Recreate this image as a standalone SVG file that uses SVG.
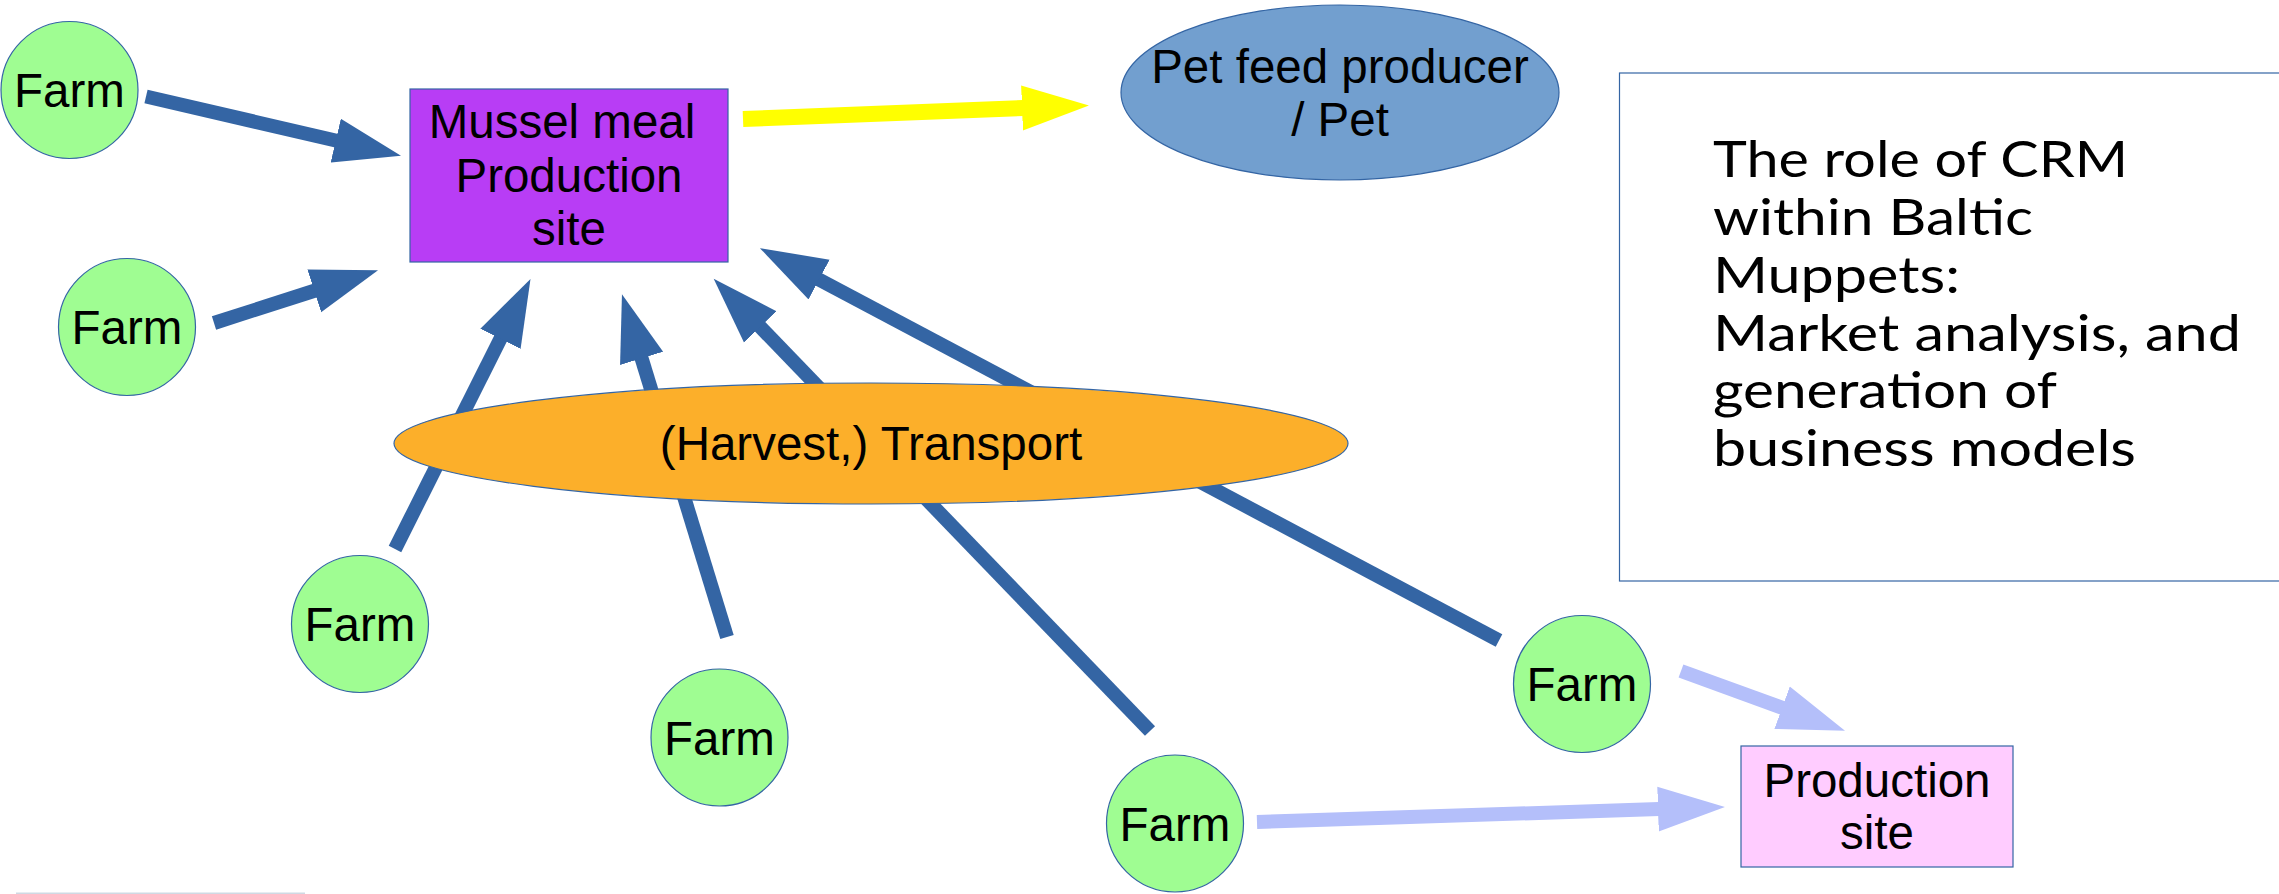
<svg xmlns="http://www.w3.org/2000/svg" width="2279" height="894" viewBox="0 0 2279 894">
<style>
.farm circle{fill:#9ffd92;stroke:#3465a4;stroke-width:1.2}
.lbl{font-family:"Liberation Sans",Arial,sans-serif;font-size:47.5px;fill:#000;text-anchor:middle}
.title{font-family:Lato,"Open Sans",sans-serif;font-size:50px;fill:#000}
.cb{stroke:#3465a4;stroke-width:14;fill:none}
.cy{stroke:#ffff00;stroke-width:16;fill:none}
.cl{stroke:#b4bffa;stroke-width:14;fill:none}
</style>
<defs>
<marker id="hb" markerUnits="userSpaceOnUse" markerWidth="68" markerHeight="46" viewBox="0 0 68 46" refX="1" refY="23" orient="auto"><path d="M0,0.5 L67,23 L0,45.5 Z" fill="#3465a4"/></marker>
<marker id="hy" markerUnits="userSpaceOnUse" markerWidth="68" markerHeight="46" viewBox="0 0 68 46" refX="1" refY="23" orient="auto"><path d="M0,0.5 L67,23 L0,45.5 Z" fill="#ffff00"/></marker>
<marker id="hl" markerUnits="userSpaceOnUse" markerWidth="68" markerHeight="46" viewBox="0 0 68 46" refX="1" refY="23" orient="auto"><path d="M0,0.5 L67,23 L0,45.5 Z" fill="#b4bffa"/></marker>
</defs>
<rect x="0" y="0" width="2279" height="894" fill="#fff"/>
<g id="connectors">
<line class="cb" x1="146" y1="96.5" x2="336.7" y2="140.8" marker-end="url(#hb)"/>
<line class="cb" x1="214" y1="323" x2="315.2" y2="290.5" marker-end="url(#hb)"/>
<line class="cb" x1="395" y1="549" x2="500.9" y2="337.9" marker-end="url(#hb)"/>
<line class="cb" x1="727" y1="637" x2="641.3" y2="357.4" marker-end="url(#hb)"/>
<line class="cb" x1="1150" y1="731" x2="759.5" y2="326.2" marker-end="url(#hb)"/>
<line class="cb" x1="1499" y1="640.5" x2="818.2" y2="279.1" marker-end="url(#hb)"/>
<line class="cy" x1="743" y1="119" x2="1023" y2="108" marker-end="url(#hy)"/>
<line class="cl" x1="1681" y1="671" x2="1783" y2="708.1" marker-end="url(#hl)"/>
<line class="cl" x1="1257" y1="822" x2="1659" y2="809.1" marker-end="url(#hl)"/>
</g>
<g id="mussel-meal">
<rect x="410" y="89" width="318" height="173" fill="#b83df5" stroke="#3465a4" stroke-width="1.2"/>
<text class="lbl" x="562" y="138">Mussel meal</text>
<text class="lbl" x="569" y="192">Production</text>
<text class="lbl" x="569" y="245">site</text>
</g>
<g id="pet-feed">
<ellipse cx="1340" cy="92.5" rx="219" ry="87.5" fill="#729fcf" stroke="#3465a4" stroke-width="1.2"/>
<text class="lbl" x="1340" y="83">Pet feed producer</text>
<text class="lbl" x="1340" y="136">/ Pet</text>
</g>
<g id="transport">
<ellipse cx="871" cy="443.5" rx="477" ry="60.5" fill="#fcaf2a" stroke="#3465a4" stroke-width="1.2"/>
<text class="lbl" x="871" y="460">(Harvest,) Transport</text>
</g>
<g id="production-site">
<rect x="1741" y="746" width="272" height="121" fill="#ffccff" stroke="#3465a4" stroke-width="1.2"/>
<text class="lbl" x="1877" y="797">Production</text>
<text class="lbl" x="1877" y="849">site</text>
</g>
<g id="farm1" class="farm"><circle cx="69.5" cy="90" r="68.5"/><text class="lbl" x="69.5" y="107">Farm</text></g>
<g id="farm2" class="farm"><circle cx="127" cy="327" r="68.5"/><text class="lbl" x="127" y="344">Farm</text></g>
<g id="farm3" class="farm"><circle cx="360" cy="624" r="68.5"/><text class="lbl" x="360" y="641">Farm</text></g>
<g id="farm4" class="farm"><circle cx="719.5" cy="737.5" r="68.5"/><text class="lbl" x="719.5" y="754.5">Farm</text></g>
<g id="farm5" class="farm"><circle cx="1175" cy="823.5" r="68.5"/><text class="lbl" x="1175" y="840.5">Farm</text></g>
<g id="farm6" class="farm"><circle cx="1582" cy="684" r="68.5"/><text class="lbl" x="1582" y="701">Farm</text></g>
<g id="title-box">
<rect x="1619.5" y="73" width="680" height="508" fill="#fff" stroke="#3465a4" stroke-width="1.2"/>
<text class="title" x="1713" y="177" textLength="415" lengthAdjust="spacingAndGlyphs">The role of CRM</text>
<text class="title" x="1713" y="235" textLength="320" lengthAdjust="spacingAndGlyphs">within Baltic</text>
<text class="title" x="1713" y="293" textLength="247" lengthAdjust="spacingAndGlyphs">Muppets:</text>
<text class="title" x="1713" y="351" textLength="528" lengthAdjust="spacingAndGlyphs">Market analysis, and</text>
<text class="title" x="1713" y="408" textLength="344" lengthAdjust="spacingAndGlyphs">generation of</text>
<text class="title" x="1713" y="466" textLength="423" lengthAdjust="spacingAndGlyphs">business models</text>
</g>
<rect x="16" y="892.5" width="289" height="1.5" fill="#cfd9e3"/>
</svg>
